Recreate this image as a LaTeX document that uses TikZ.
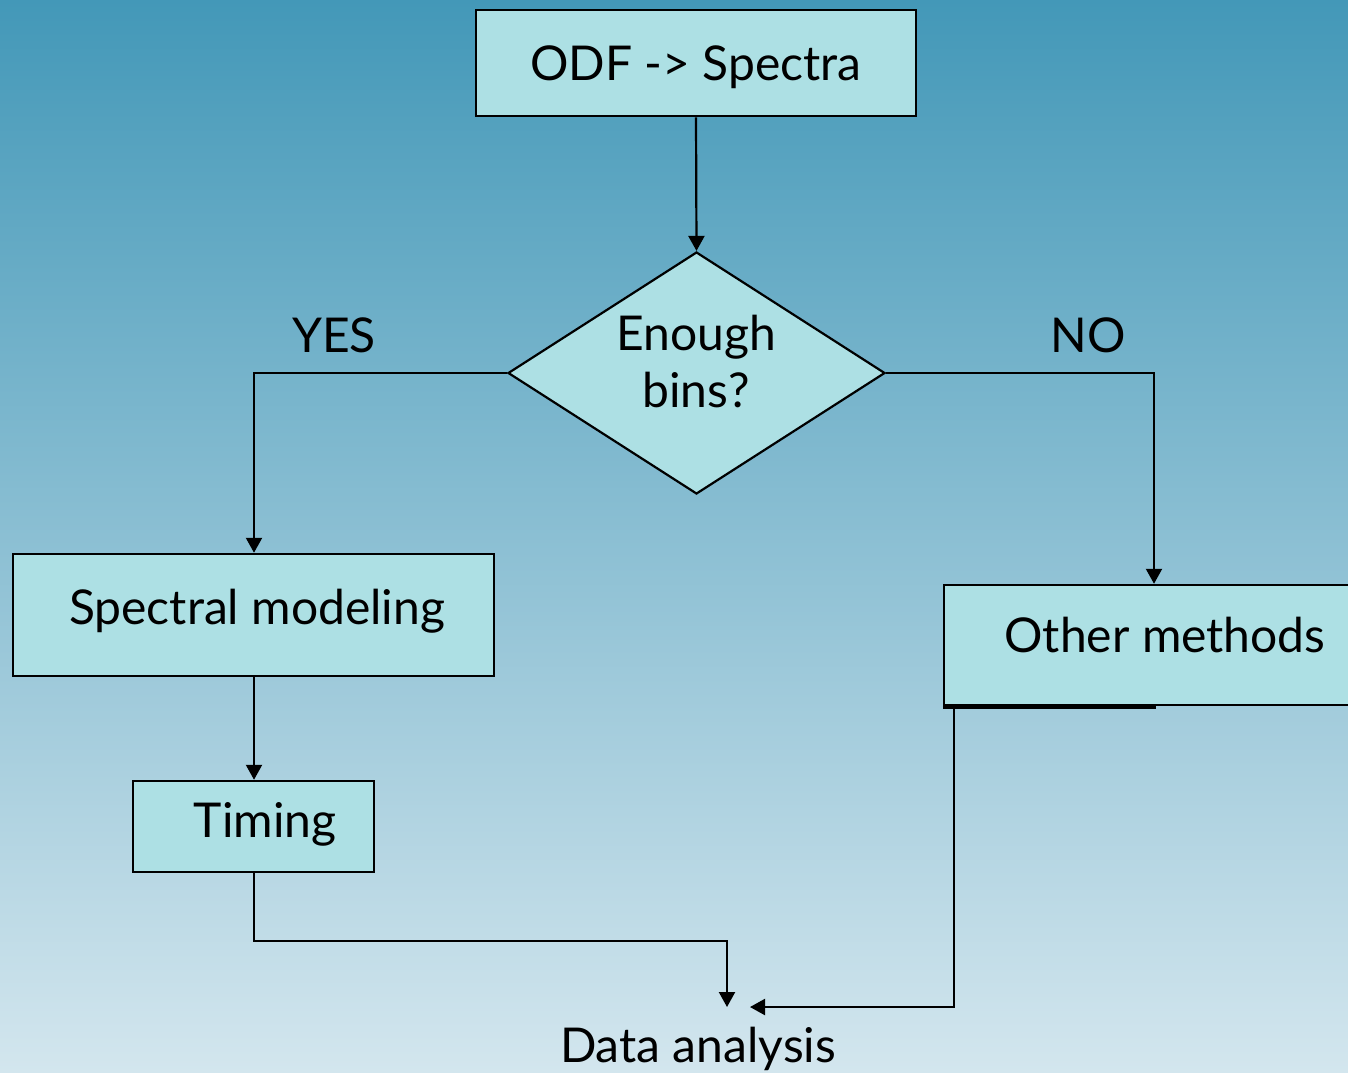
\documentclass[tikz,border=0pt]{standalone}
\usepackage{fontspec}
\setmainfont{Lato}
\usetikzlibrary{shapes.geometric,arrows.meta}
\definecolor{bgtop}{HTML}{4398B8}
\definecolor{bgbot}{HTML}{D3E6EE}
\definecolor{boxfill}{HTML}{ADE0E4}
\begin{document}
\begin{tikzpicture}[x=0.5pt,y=-0.5pt,
  box/.style={draw=black,line width=1.25pt,fill=boxfill,rectangle,inner sep=0pt},
  decision/.style={draw=black,line width=1.1pt,fill=boxfill,diamond,inner sep=0pt,aspect=1.56},
  lbl/.style={font=\fontsize{24pt}{28.5pt}\selectfont,anchor=base,inner sep=0pt},
  flow/.style={line width=1.1pt,-{Triangle[length=7.5pt,width=8pt]}},
  wire/.style={line width=1.1pt}]
\useasboundingbox (0,0) rectangle (1348,1072);
\clip (0,0) rectangle (1348,1072);
\shade[top color=bgtop,bottom color=bgbot] (0,0) rectangle (1348,1072);

% boxes
\node[box,minimum width=220pt,minimum height=53pt] (odf) at (696,63) {};
\node[decision,minimum width=188.5pt,minimum height=121pt] (dec) at (696.5,373) {};
\node[box,minimum width=240.5pt,minimum height=61pt] (spec) at (253.5,615) {};
\node[box,minimum width=120.5pt,minimum height=45.5pt] (tim) at (253.5,826.5) {};
\node[box,minimum width=218pt,minimum height=60pt] (oth) at (1162,645) {};
\draw[wire,line width=1.4pt] ([yshift=-0.5pt]oth.south west) -- ++(213,0);

% texts
\node[lbl] (odft) at (696,80) {ODF -> Spectra};
\node[lbl] (dect1) at (696,350) {Enough};
\node[lbl] (dect2) at (696,407) {bins?};
\node[lbl] (spect) at (257,624) {Spectral modeling};
\node[lbl] (timt) at (265,837) {Timing};
\node[lbl] (otht) at (1165,652) {Other methods};
\node[lbl] (yes) at (334,352) {YES};
\node[lbl] (no) at (1088,352) {NO};
\node[lbl] (da) at (698,1062) {Data analysis};

% connector ends
\coordinate (yesdrop) at (254,373);
\coordinate (nodrop) at (1154,373);
\coordinate (timbend) at (254,941);
\coordinate (tojoin) at (727,941);
\coordinate (daleft) at (727,1007);
\coordinate (othout) at (954,705);
\coordinate (othbend) at (954,1007);
\coordinate (daright) at (750,1007);

% connectors
\draw[flow] (odf.south) -- (dec.north);
\draw[flow] (dec.west) -- (yesdrop) -- (yesdrop |- spec.north);
\draw[flow] (dec.east) -- (nodrop) -- (nodrop |- oth.north);
\draw[flow] (spec.south -| yesdrop) -- (yesdrop |- tim.north);
\draw[flow] (tim.south -| timbend) -- (timbend) -- (tojoin) -- (daleft);
\draw[flow] (othout) -- (othbend) -- (daright);
\end{tikzpicture}
\end{document}
